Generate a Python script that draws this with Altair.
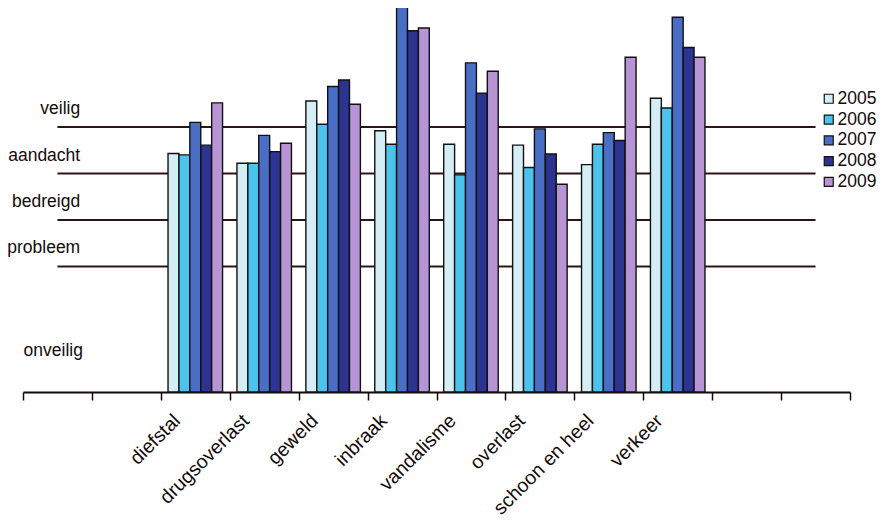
import altair as alt
import pandas as pd

# ---- data ----
categories = ["diefstal", "drugsoverlast", "geweld", "inbraak",
              "vandalisme", "overlast", "schoon en heel", "verkeer"]
years = ["2005", "2006", "2007", "2008", "2009"]
v2005 = [5.13, 4.92, 6.26, 5.62, 5.33, 5.31, 4.89, 6.32]
v2006 = [5.10, 4.92, 5.76, 5.33, 4.67, 4.83, 5.33, 6.11]
v2007 = [5.80, 5.52, 6.57, 8.37, 7.08, 5.66, 5.58, 8.06]
v2008 = [5.31, 5.17, 6.71, 7.77, 6.43, 5.12, 5.41, 7.41]
v2009 = [6.22, 5.35, 6.19, 7.83, 6.90, 4.47, 7.20, 7.20]
levels = ["veilig", "aandacht", "bedreigd", "probleem"]
level_floor = [5.7, 4.7, 3.7, 2.7]        # the threshold lines
bottom_level = "onveilig"
bottom_floor = 0.0

colors = ["#d5eef6", "#4cc3ec", "#4a6ec6", "#2c3390", "#b794d3"]
ink = "#140a0a"
font = "Liberation Sans"

# empty slots left and right of the categories
pad_left = [" ", "  "]
pad_right = ["   ", "    "]
x_domain = pad_left + categories + pad_right

series = [v2005, v2006, v2007, v2008, v2009]
rows = []
for yr, vals in zip(years, series):
    for c, v in zip(categories, vals):
        rows.append({"cat": c, "year": yr, "value": v})
df_bars = pd.DataFrame(rows)

df_rules = pd.DataFrame({"value": level_floor,
                         "cat": [pad_left[0]] * len(level_floor),
                         "cat_end": [pad_right[-1]] * len(level_floor)})
df_levels = pd.DataFrame({"level": levels, "floor": level_floor,
                          "cat": [pad_left[0]] * len(levels)})
df_bottom = pd.DataFrame({"level": [bottom_level], "floor": [bottom_floor],
                          "cat": [pad_left[0]]})

xscale = alt.Scale(domain=x_domain, paddingInner=0, paddingOuter=0)
yscale = alt.Scale(domain=[0, 8.26], nice=False)
xaxis = alt.Axis(title=None, labelAngle=-45, labelAlign="right",
                 labelBaseline="top", labelFontSize=19.5, labelFont=font,
                 labelColor=ink, labelOffset=-25, labelPadding=11,
                 labelOverlap=False, tickBand="extent", tickSize=8,
                 tickColor=ink, tickWidth=1.5, domainColor=ink,
                 domainWidth=2, grid=False)

bars = alt.Chart(df_bars).mark_bar(stroke="#111111", strokeWidth=1.4).encode(
    x=alt.X("cat:N", scale=xscale, sort=x_domain, axis=xaxis),
    xOffset=alt.XOffset("year:N", scale=alt.Scale(domain=years, paddingInner=0,
                                                  paddingOuter=0.66)),
    y=alt.Y("value:Q", scale=yscale, axis=None),
    color=alt.Color("year:N", scale=alt.Scale(domain=years, range=colors),
                    legend=alt.Legend(orient="none", legendX=797, legendY=82,
                                      title=None, symbolType="square",
                                      symbolSize=81, symbolStrokeColor="#111111",
                                      symbolStrokeWidth=1.2, labelFontSize=17.5,
                                      labelFont=font, labelColor=ink,
                                      rowPadding=1.8, labelOffset=0)),
)

rules = alt.Chart(df_rules).mark_rule(color="#2e1414", strokeWidth=2).encode(
    x=alt.X("cat:N", scale=xscale, sort=x_domain, axis=xaxis, bandPosition=0.5),
    x2=alt.X2("cat_end"),
    y=alt.Y("value:Q", scale=yscale, axis=None),
)

level_text = alt.Chart(df_levels).mark_text(
    align="right", baseline="middle", dy=-18, fontSize=17.5, font=font, color=ink
).encode(
    x=alt.X("cat:N", scale=xscale, sort=x_domain, axis=xaxis, bandPosition=0.83),
    y=alt.Y("floor:Q", scale=yscale, axis=None),
    text="level:N",
)

bottom_text = alt.Chart(df_bottom).mark_text(
    align="right", baseline="middle", dy=-41, fontSize=17.5, font=font, color=ink
).encode(
    x=alt.X("cat:N", scale=xscale, sort=x_domain, axis=xaxis, bandPosition=0.87),
    y=alt.Y("floor:Q", scale=yscale, axis=None),
    text="level:N",
)

chart = alt.layer(rules, bars, level_text, bottom_text).properties(
    width=827, height=384,
    autosize=alt.AutoSizeParams(type="none"),
    padding={"left": 15, "top": 0, "right": 29, "bottom": 126},
    background="white",
).configure_view(strokeWidth=0)

chart.save("out.html", embed_options={"renderer": "svg", "actions": False})
